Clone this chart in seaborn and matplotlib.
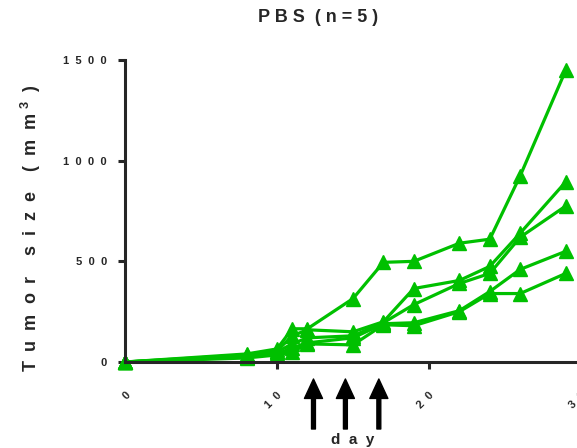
import matplotlib
matplotlib.use("Agg")
import matplotlib.pyplot as plt
import seaborn as sns
import pandas as pd

days = [0, 8, 10, 11, 12, 15, 17, 19, 22, 24, 26, 29]
mouse_1 = [0, 40, 65, 165, 165, 315, 495, 500, 590, 610, 925, 1450]
mouse_2 = [0, 35, 55, 130, 160, 150, 200, 365, 405, 475, 640, 895]
mouse_3 = [0, 30, 50, 90, 120, 130, 195, 285, 390, 440, 620, 775]
mouse_4 = [0, 25, 40, 70, 95, 120, 190, 195, 255, 350, 460, 550]
mouse_5 = [0, 20, 35, 50, 90, 85, 185, 180, 250, 340, 340, 440]
xticks = [0, 10, 20, 30]
xtick_labels = ["0", "1  0", "2  0", "3  0"]
yticks = [0, 500, 1000, 1500]
ytick_labels = ["0", "5  0  0", "1  0  0  0", "1  5  0  0"]
arrow_days = [12.4, 14.5, 16.7]
title = "P B S  ( n = 5 )"
xlabel = "d  a  y"
ylabel = r"T  u  m  o  r    s  i  z  e    (  m  m $^{\mathbf{3}}$  )"

rows = []
for name, vals in [("m1", mouse_1), ("m2", mouse_2), ("m3", mouse_3),
                   ("m4", mouse_4), ("m5", mouse_5)]:
    for d, v in zip(days, vals):
        rows.append({"mouse": name, "day": d, "size": v})
df = pd.DataFrame(rows)

sns.set_style("ticks")
plt.rcParams["font.family"] = ["Liberation Sans", "DejaVu Sans"]
plt.rcParams["font.weight"] = "bold"
plt.rcParams["mathtext.fontset"] = "custom"
plt.rcParams["mathtext.bf"] = "Liberation Sans:bold"
plt.rcParams["mathtext.rm"] = "Liberation Sans:bold"

green = "#00C000"
W, H = 577, 448
fig = plt.figure(figsize=(W / 100, H / 100), dpi=100)
ax = fig.add_axes([125 / W, 86 / H, (581 - 125) / W, 302 / H])

sns.lineplot(data=df, x="day", y="size", units="mouse", estimator=None,
             color=green, marker="^", markersize=10.5, markeredgecolor=green,
             markeredgewidth=1, linewidth=2.3, clip_on=False, ax=ax,
             legend=False)

ax.set_xlim(0, 30)
ax.set_ylim(0, 1500)
ax.set_xticks(xticks)
ax.set_xticklabels(xtick_labels, rotation=45, ha="right",
                   rotation_mode="anchor", fontsize=8, fontweight="bold")
ax.set_yticks(yticks)
ax.set_yticklabels(ytick_labels, fontsize=8, fontweight="bold")
ax.tick_params(axis="x", length=5, width=2.2, pad=15)
ax.tick_params(axis="y", length=5, width=2.2, pad=8)
for s in ["top", "right"]:
    ax.spines[s].set_visible(False)
for s in ["left", "bottom"]:
    ax.spines[s].set_linewidth(2.2)
ax.set_xlabel("")
ax.set_ylabel("")

fig.text(353 / W, 1 - 440 / H, xlabel, ha="center", va="center",
         fontsize=11, fontweight="bold")
fig.text(31 / W, 1 - 228 / H, ylabel, ha="center", va="center",
         rotation=90, fontsize=13, fontweight="bold")
fig.text(318 / W, 1 - 17.5 / H, title, ha="center", va="center",
         fontsize=13, fontweight="bold")

for d in arrow_days:
    ax.annotate("", xy=(d, H - 379), xycoords=("data", "figure pixels"),
                xytext=(d, H - 429), textcoords=("data", "figure pixels"),
                arrowprops=dict(facecolor="black", edgecolor="black",
                                width=2.8, headwidth=13, headlength=14,
                                shrink=0))

fig.savefig("out.png", dpi=100)
